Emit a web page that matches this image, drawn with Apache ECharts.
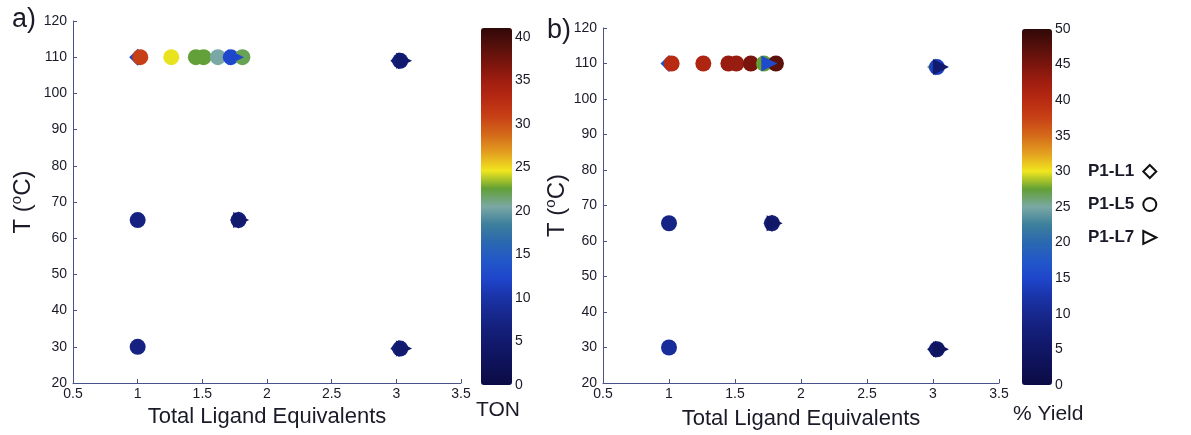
<!DOCTYPE html>
<html>
<head>
<meta charset="utf-8">
<script src="https://cdn.jsdelivr.net/npm/echarts@6/dist/echarts.min.js"></script>
<style>
  html, body { margin: 0; padding: 0; background: #fff; }
  #chart { width: 1191px; height: 435px; }
</style>
</head>
<body>
<div id="chart"></div>
<script>
// Ligand / temperature screen: turnover number (a) and % yield (b)
const ligands = ['P1-L1', 'P1-L5', 'P1-L7'];

// P1-L1 (diamonds)
const l1Equiv = [1.0, 1.78, 3.02, 3.02];
const l1Temp  = [110, 65, 109, 29.5];
const l1TON   = [12, 6, 6, 6];
const l1Yield = [16, 7, 27, 6];

// P1-L5 (circles)
const l5Equiv = [1.02, 1.26, 1.45, 1.51, 1.62, 1.72, 1.81, 1.0, 1.78, 1.0, 3.03, 3.03];
const l5Temp  = [110, 110, 110, 110, 110, 110, 110, 65, 65, 30, 109, 29.5];
const l5TON   = [31, 24.5, 22.5, 22.5, 20.5, 12.5, 22, 7, 6, 7, 6, 6];
const l5Yield = [40, 41, 43, 43, 45, 27.5, 47, 9, 7, 11, 14, 6];

// P1-L7 (triangles)
const l7Equiv = [1.76, 1.80, 3.06, 3.06];
const l7Temp  = [110, 65, 109, 29.5];
const l7TON   = [12.5, 5, 5, 5];
const l7Yield = [15.5, 5, 6, 4];

// Axis ranges and colour-bar scales
const tempTicks = [20, 30, 40, 50, 60, 70, 80, 90, 100, 110, 120];
const equivTicks = [0.5, 1, 1.5, 2, 2.5, 3, 3.5];
const tonMax = 41;
const yieldMax = 50;

// Dark jet-style colour map, evenly spaced from low to high
const colorMap = [
  '#0b0c45', '#0e1155', '#111766', '#131e78', '#17288e', '#1a34aa',
  '#1e46cc', '#2258c8', '#2a68b0', '#3d7f9c', '#7aa8a4', '#62a036',
  '#f0e61e', '#e4a020', '#d46a1a', '#c84216', '#b82a12', '#a01e10',
  '#7a150d', '#55100b', '#300808'
];

function rows(xs, ts, tons, ylds) {
  return xs.map((x, i) => [x, ts[i], tons[i], ylds[i]]);
}
const l1Data = rows(l1Equiv, l1Temp, l1TON, l1Yield);
const l5Data = rows(l5Equiv, l5Temp, l5TON, l5Yield);
const l7Data = rows(l7Equiv, l7Temp, l7TON, l7Yield);

const FONT = '"Liberation Sans", Arial, sans-serif';
const TXT = '#1a1a28';
const AXIS = '#4a5488';

const panels = [
  { left: 73, top: 21, width: 388, height: 362, yGap: 36, xGap: 20 },
  { left: 603, top: 28, width: 396, height: 360, yGap: 27, xGap: 25 }
];
const bars = [
  { left: 481, top: 28, width: 31, height: 357, max: tonMax, title: 'TON' },
  { left: 1022, top: 29, width: 30, height: 356, max: yieldMax, title: '% Yield' }
];

const grids = [], xAxes = [], yAxes = [], series = [], visualMaps = [];

panels.forEach((p, k) => {
  grids.push({ left: p.left, top: p.top, width: p.width, height: p.height, containLabel: false });
  xAxes.push({
    type: 'value', gridIndex: k, min: equivTicks[0], max: equivTicks[equivTicks.length - 1],
    interval: 0.5,
    name: 'Total Ligand Equivalents', nameLocation: 'middle', nameGap: p.xGap,
    nameTextStyle: { fontFamily: FONT, fontSize: 22, color: TXT },
    axisLine: { show: true, lineStyle: { color: AXIS, width: 1 } },
    axisTick: { show: true, inside: true, length: 4, lineStyle: { color: AXIS } },
    axisLabel: { fontFamily: FONT, fontSize: 14, color: TXT, margin: 4 },
    splitLine: { show: false }
  });
  yAxes.push({
    type: 'value', gridIndex: k, min: tempTicks[0], max: tempTicks[tempTicks.length - 1],
    interval: 10,
    name: '{a|T (}{s|o}{a|C)}', nameLocation: 'middle', nameGap: p.yGap,
    nameTextStyle: {
      rich: {
        a: { fontFamily: FONT, fontSize: 24, color: TXT },
        s: { fontFamily: FONT, fontSize: 15, color: TXT, padding: [0, 0, 13, 0] }
      }
    },
    axisLine: { show: true, lineStyle: { color: AXIS, width: 1 } },
    axisTick: { show: true, inside: true, length: 4, lineStyle: { color: AXIS } },
    axisLabel: { fontFamily: FONT, fontSize: 14, color: TXT, margin: 6 },
    splitLine: { show: false }
  });
  const base = { type: 'scatter', xAxisIndex: k, yAxisIndex: k, symbolSize: 16,
                 itemStyle: { opacity: 1 }, emphasis: { disabled: true } };
  series.push(
    Object.assign({}, base, { name: ligands[0], symbol: 'diamond', symbolSize: 17, data: l1Data, z: 2 }),
    Object.assign({}, base, { name: ligands[1], symbol: 'circle', data: l5Data, z: 3 }),
    Object.assign({}, base, { name: ligands[2], symbol: 'triangle', symbolRotate: -90, data: l7Data, z: 4 })
  );
});

// Colour bars: visualMap gradient plus a small axis carrying the tick labels
bars.forEach((b, k) => {
  visualMaps.push({
    type: 'continuous', min: 0, max: b.max, dimension: k === 0 ? 2 : 3,
    seriesIndex: k === 0 ? [0, 1, 2] : [3, 4, 5],
    left: b.left, top: b.top, itemWidth: b.width, itemHeight: b.height,
    padding: 0, calculable: false, hoverLink: false, text: null,
    inRange: { color: colorMap }, z: 1
  });
  const g = grids.length;
  grids.push({ left: b.left, top: b.top, width: b.width, height: b.height });
  xAxes.push({ type: 'value', gridIndex: g, show: false, min: 0, max: 1 });
  yAxes.push({
    type: 'value', gridIndex: g, min: 0, max: b.max, interval: 5,
    position: 'right',
    axisLine: { show: false }, splitLine: { show: false }, axisTick: { show: false },
    axisLabel: { fontFamily: FONT, fontSize: 14, color: TXT, margin: 3 }
  });
});

const option = {
  animation: false,
  backgroundColor: '#ffffff',
  grid: grids,
  xAxis: xAxes,
  yAxis: yAxes,
  visualMap: visualMaps,
  series: series,
  legend: {
    orient: 'vertical', left: 1083, top: 158, align: 'right', itemGap: 16,
    itemWidth: 13, itemHeight: 13, selectedMode: false,
    textStyle: { fontFamily: FONT, fontSize: 17, fontWeight: 'bold', color: TXT, padding: [0, 4, 0, 0] },
    itemStyle: { color: '#ffffff', borderColor: '#111111', borderWidth: 2 },
    data: [
      { name: ligands[0], icon: 'diamond' },
      { name: ligands[1], icon: 'circle' },
      { name: ligands[2], icon: 'path://M0,0L10,5L0,10Z' }
    ]
  },
  graphic: [
    { type: 'text', left: 12, top: 6, style: { text: 'a)', font: '27px ' + FONT, fill: TXT } },
    { type: 'text', left: 547, top: 17, style: { text: 'b)', font: '27px ' + FONT, fill: TXT } },
    { type: 'text', left: 476, top: 400, style: { text: bars[0].title, font: '21px ' + FONT, fill: TXT } },
    { type: 'text', left: 1013, top: 404, style: { text: bars[1].title, font: '21px ' + FONT, fill: TXT } }
  ]
};

const chart = echarts.init(document.getElementById('chart'), null, { renderer: 'canvas' });
chart.setOption(option);
</script>
</body>
</html>
